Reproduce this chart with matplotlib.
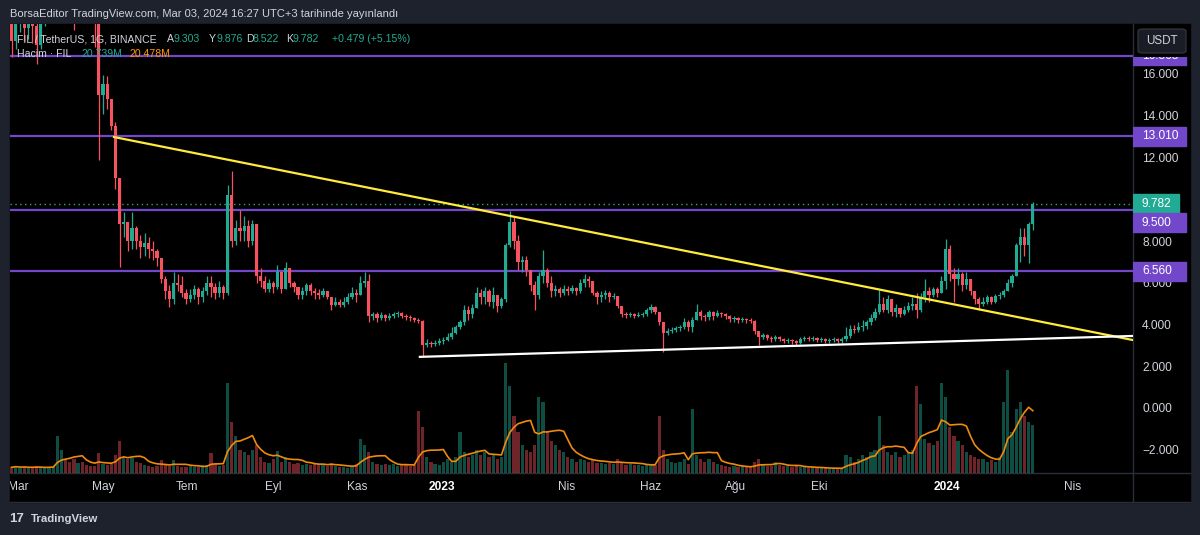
import matplotlib
matplotlib.use("Agg")
import matplotlib.pyplot as plt
from matplotlib.patches import Rectangle, FancyBboxPatch
from matplotlib.lines import Line2D
from matplotlib.colors import to_rgba
from matplotlib.transforms import blended_transform_factory, Bbox, TransformedBbox
import numpy as np
import pandas as pd

plt.rcParams['font.family'] = ['Liberation Sans', 'DejaVu Sans']

# FIL / USDT (Binance), one candle per 3 days
first_open = 19.5
closes = [
    17.6, 18.6, 18.9, 18.2, 18.8, 18.3, 17.4, 18.6, 19.5, 20.5,
    22.5, 24.0, 27.0, 24.5, 21.5, 21.0, 21.5, 20.5, 19.8, 19.0,
    18.9, 15.0, 15.5, 14.8, 13.5, 11.0, 8.8, 8.9, 8.0, 8.6,
    8.0, 7.7, 7.9, 7.6, 7.5, 7.2, 6.2, 5.6, 5.2, 6.0,
    5.9, 5.5, 5.2, 5.4, 5.7, 5.3, 5.6, 6.0, 5.8, 5.5,
    5.8, 5.5, 10.2, 8.0, 8.6, 8.5, 8.7, 8.0, 8.8, 6.3,
    6.1, 5.7, 6.0, 5.8, 6.5, 5.7, 6.7, 6.0, 5.8, 5.4,
    5.6, 5.9, 5.6, 5.5, 5.4, 5.6, 5.3, 4.95, 5.1, 4.95,
    5.1, 5.3, 5.5, 5.4, 6.0, 6.1, 4.4, 4.5, 4.3, 4.45,
    4.3, 4.4, 4.5, 4.55, 4.4, 4.35, 4.3, 4.2, 4.15, 3.0,
    3.1, 3.05, 3.1, 3.2, 3.25, 3.4, 3.6, 3.9, 4.1, 4.7,
    4.5, 4.8, 5.5, 5.3, 5.6, 5.1, 5.4, 4.9, 5.2, 7.8,
    8.9, 8.0, 7.0, 7.1, 6.6, 5.9, 5.4, 6.3, 6.6, 6.0,
    5.6, 5.7, 5.5, 5.7, 5.6, 5.75, 5.6, 6.0, 6.2, 6.1,
    5.5, 5.3, 5.4, 5.5, 5.3, 5.35, 4.9, 4.5, 4.45, 4.5,
    4.4, 4.45, 4.5, 4.7, 4.85, 4.6, 4.1, 3.6, 3.7, 3.75,
    3.85, 3.9, 4.1, 3.9, 4.2, 4.6, 4.4, 4.35, 4.6, 4.4,
    4.55, 4.5, 4.4, 4.25, 4.3, 4.2, 4.25, 4.2, 4.15, 3.7,
    3.4, 3.5, 3.35, 3.3, 3.4, 3.3, 3.2, 3.25, 3.2, 3.1,
    3.3, 3.35, 3.3, 3.35, 3.25, 3.3, 3.2, 3.25, 3.3, 3.2,
    3.3, 3.45, 3.8, 3.75, 3.9, 3.95, 4.1, 4.3, 4.6, 5.0,
    4.7, 5.2, 4.6, 4.8, 4.5, 4.7, 4.9, 5.0, 4.7, 5.3,
    5.6, 5.4, 5.7, 5.5, 6.1, 7.6, 6.4, 6.2, 6.4, 5.9,
    6.2, 5.6, 5.2, 5.0, 5.1, 5.3, 5.1, 5.35, 5.4, 5.6,
    6.0, 6.3, 7.8, 8.2, 7.8, 8.8, 9.782,
]
highs = [
    20.0, 19.0, 19.6, 19.5, 19.8, 19.4, 18.6, 19.2, 20.5, 21.5,
    23.5, 25.0, 29.0, 27.5, 25.0, 22.5, 22.5, 22.0, 21.0, 20.0,
    19.6, 19.5, 15.95, 15.9, 14.2, 13.7, 11.0, 9.4, 8.9, 9.4,
    8.7, 8.3, 8.4, 8.2, 8.0, 7.6, 7.2, 6.3, 5.9, 6.5,
    6.4, 6.3, 5.7, 5.7, 5.9, 5.8, 5.8, 6.3, 6.3, 6.0,
    6.1, 5.9, 10.7, 11.35, 9.0, 9.5, 9.2, 9.0, 9.0, 8.8,
    6.7, 6.3, 6.2, 6.1, 6.85, 6.5, 7.0, 6.7, 6.1, 5.8,
    5.8, 6.0, 6.0, 5.75, 5.7, 5.75, 5.6, 5.3, 5.3, 5.2,
    5.3, 5.5, 5.8, 5.7, 6.3, 6.5, 6.4, 4.6, 4.6, 4.6,
    4.5, 4.55, 4.6, 4.65, 4.6, 4.5, 4.45, 4.35, 4.3, 4.2,
    3.3, 3.2, 3.25, 3.35, 3.4, 3.6, 3.9, 4.0, 4.2, 4.95,
    4.9, 5.0, 5.8, 5.7, 5.8, 5.7, 5.8, 5.3, 5.3, 7.9,
    9.45, 9.2, 8.3, 7.3, 7.3, 6.6, 6.1, 6.5, 7.55, 6.7,
    6.3, 5.9, 5.8, 5.9, 5.85, 5.9, 5.8, 6.2, 6.4, 6.3,
    6.1, 5.6, 5.6, 5.65, 5.6, 5.5, 5.3, 4.9, 4.6, 4.6,
    4.55, 4.6, 4.6, 4.8, 5.0, 4.9, 4.6, 4.1, 3.85, 3.9,
    3.95, 4.0, 4.3, 4.2, 4.35, 5.0, 4.7, 4.5, 4.7, 4.65,
    4.7, 4.6, 4.55, 4.45, 4.4, 4.35, 4.35, 4.3, 4.3, 4.2,
    3.7, 3.6, 3.55, 3.45, 3.5, 3.45, 3.35, 3.35, 3.3, 3.25,
    3.4, 3.45, 3.45, 3.45, 3.4, 3.4, 3.35, 3.35, 3.4, 3.35,
    3.4, 3.9, 4.0, 4.0, 4.1, 4.2, 4.2, 4.5, 4.8, 5.65,
    5.3, 5.4, 5.2, 5.0, 4.8, 4.9, 5.1, 5.3, 5.5, 5.5,
    6.2, 5.8, 5.8, 5.8, 6.3, 8.1, 7.8, 6.7, 6.7, 6.5,
    6.5, 6.2, 5.6, 5.3, 5.3, 5.4, 5.35, 5.45, 5.55, 5.7,
    6.2, 6.4, 7.9, 8.6, 8.6, 8.9, 9.876,
]
lows = [
    16.8, 17.2, 18.0, 17.6, 17.7, 17.5, 16.5, 17.2, 18.3, 19.0,
    20.0, 21.5, 23.5, 23.5, 20.5, 18.1, 20.0, 19.5, 18.8, 18.5,
    17.3, 11.9, 14.1, 14.3, 13.3, 10.5, 6.75, 8.2, 7.5, 7.6,
    7.6, 7.2, 7.3, 7.2, 7.1, 6.8, 6.0, 5.2, 4.85, 5.0,
    5.6, 5.3, 5.0, 5.1, 5.2, 5.0, 5.1, 5.4, 5.3, 5.2,
    5.3, 5.2, 5.4, 7.7, 7.8, 8.0, 8.0, 7.7, 7.8, 6.0,
    5.8, 5.55, 5.55, 5.5, 5.7, 5.5, 5.7, 5.8, 5.55, 5.2,
    5.2, 5.4, 5.4, 5.2, 5.2, 5.3, 5.2, 4.7, 4.9, 4.85,
    4.85, 5.0, 5.2, 5.1, 5.4, 5.8, 4.1, 4.2, 4.1, 4.2,
    4.15, 4.2, 4.3, 4.35, 4.3, 4.2, 4.15, 4.1, 4.05, 2.45,
    2.9, 2.9, 2.95, 3.0, 3.05, 3.2, 3.3, 3.55, 3.8, 4.0,
    4.2, 4.3, 4.9, 5.0, 5.0, 4.9, 4.8, 4.6, 4.8, 5.1,
    7.7, 7.6, 6.6, 6.5, 6.3, 5.6, 4.7, 5.2, 6.0, 5.8,
    5.3, 5.35, 5.3, 5.4, 5.4, 5.5, 5.4, 5.5, 5.8, 5.8,
    5.4, 5.0, 5.1, 5.2, 5.1, 5.2, 4.8, 4.35, 4.3, 4.35,
    4.3, 4.35, 4.35, 4.4, 4.55, 4.5, 4.0, 2.7, 3.5, 3.6,
    3.65, 3.7, 3.8, 3.7, 3.65, 4.2, 4.2, 4.15, 4.2, 4.2,
    4.35, 4.35, 4.25, 4.1, 4.1, 4.05, 4.1, 4.05, 4.05, 3.55,
    3.0, 3.3, 3.25, 3.15, 3.2, 3.2, 3.1, 3.1, 3.05, 3.0,
    3.05, 3.2, 3.2, 3.2, 3.15, 3.15, 3.1, 3.1, 3.15, 3.1,
    3.1, 3.2, 3.35, 3.6, 3.65, 3.7, 3.8, 4.0, 4.2, 4.5,
    4.6, 4.55, 4.4, 4.35, 4.35, 4.45, 4.6, 4.7, 4.3, 4.6,
    5.1, 5.1, 5.3, 5.3, 5.6, 5.7, 6.1, 5.1, 5.9, 5.6,
    5.7, 5.4, 5.0, 4.7, 4.9, 5.0, 5.0, 5.05, 5.2, 5.3,
    5.6, 5.8, 6.3, 7.0, 7.3, 6.95, 8.522,
]
# volume, million FIL
volumes = [
    2.5, 3, 2.2, 2.8, 2, 2.5, 3, 2.4, 2.2, 2.6,
    3, 16, 10, 6, 5, 6, 4.5, 5, 3.5, 3,
    3, 8.7, 4, 3.5, 4, 8, 14, 7, 6, 6.5,
    5, 4.5, 3.5, 3, 2.5, 3, 5.5, 4, 3, 5.5,
    3, 2.8, 2.5, 3, 2.6, 2.5, 3.5, 3.5, 8.7, 4,
    3, 3.5, 39, 22, 16, 10, 9, 8, 10, 12,
    7, 5, 4.5, 6, 9.6, 5, 7, 5, 4, 4.5,
    3.5, 4, 3.5, 4, 3.5, 4, 3, 4.5, 3, 2.5,
    2.5, 2.3, 3, 4, 15, 12, 9, 5, 4, 3.5,
    4, 3.5, 4, 3, 3.5, 4, 3, 3.5, 27, 20,
    7, 5, 4, 3.5, 5, 6, 5, 7, 18, 9,
    7, 8, 10, 8, 9, 7, 8, 6, 7, 48,
    38, 25, 18, 12, 10, 9, 12, 33, 31, 18,
    14, 12, 10, 9, 7, 6, 5, 6, 5.5, 5,
    6, 4.5, 4.5, 4, 4.5, 4, 6, 5, 3.5, 4,
    3.5, 3.5, 3, 3.5, 4, 3.5, 25, 10, 6, 5,
    4.5, 5, 6, 4, 28, 8, 6, 5, 6, 5,
    4, 3.5, 3, 2.5, 3, 2.5, 3, 2.5, 2.5, 5,
    6, 3.5, 3, 3, 5, 3.5, 3, 3, 2.5, 3,
    2.5, 2.5, 2.2, 2.5, 2, 2.2, 2, 1.8, 2, 2.2,
    2, 8, 7, 5, 6, 8, 7, 9, 10, 25,
    12, 9, 8, 9, 7, 8, 9, 10, 38, 30,
    15, 13, 12, 14, 39, 33, 20, 16, 14, 12,
    9, 8, 7, 6, 6, 5, 5.5, 5, 7, 31,
    45, 18, 28, 31, 25, 22, 20.7,
]
dates = pd.date_range(end='2024-03-03', periods=len(closes), freq='3D')

levels = [16.863, 13.010, 9.500, 6.560]
last_ohlc = [9.303, 9.876, 8.522, 9.782]
last_vol, last_vol_ma = 20.739, 20.478

down_dates = ['2022-05-09', '2024-05-14']
down_prices = [12.98, 3.26]
up_dates = ['2022-12-16', '2024-05-14']
up_prices = [2.45, 3.45]

tick_dates = ['2022-03-01', '2022-05-01', '2022-07-01', '2022-09-01', '2022-11-01', '2023-01-01',
              '2023-04-01', '2023-06-01', '2023-08-01', '2023-10-01', '2024-01-01', '2024-04-01']
tick_labels = ['Mar', 'May', 'Tem', 'Eyl', 'Kas', '2023', 'Nis', 'Haz', 'Ağu', 'Eki', '2024', 'Nis']
# 10.000 sits under the last-price tag, so it never shows
price_ticks = [-2, 0, 2, 4, 6, 8, 12, 14, 16]

BG = '#000000'
PANEL = '#1e222d'
TEXT = '#d1d4dc'
UP = '#22ab94'
DOWN = '#f7525f'
PURPLE = '#7347c9'
ORANGE = '#ff9800'
GRID = '#2a2e39'

W, H = 1200, 535


def fx(px):
    return px / W


def fy(py):
    return 1 - py / H


fig = plt.figure(figsize=(12, 5.35), dpi=100, facecolor=PANEL)
fig.add_artist(Rectangle((fx(10), fy(502)), fx(1190) - fx(10), fy(24) - fy(502),
                         transform=fig.transFigure, color=BG, zorder=0))

ax = fig.add_axes([fx(10), fy(473), fx(1133) - fx(10), fy(24) - fy(473)])
vax = ax.twinx()
ax.set_zorder(2)
vax.set_zorder(1)
ax.patch.set_visible(False)
vax.patch.set_visible(False)

# candles
o = np.r_[first_open, closes[:-1]]
c = np.array(closes)
hi = np.maximum(highs, np.maximum(o, c))
lo = np.minimum(lows, np.minimum(o, c))
col = np.where(c >= o, UP, DOWN)
ax.vlines(dates, lo, hi, colors=col, lw=0.9, zorder=3)
ax.bar(dates, np.maximum(np.abs(c - o), 0.04), bottom=np.minimum(o, c), width=2.3,
       color=col, linewidth=0, zorder=4)

# volume + its moving average
vax.bar(dates, volumes, width=2.3, color=[to_rgba(x, 0.45) for x in col], linewidth=0)
vol_ma = pd.Series(volumes).rolling(7, min_periods=1).mean()
vax.plot(dates, vol_ma, color='#f08a0c', lw=1.2)
vax.set_ylim(0, 449 / 2.3)
vax.axis('off')

# drawings
for lv in levels:
    ax.axhline(lv, color=PURPLE, lw=1.6, zorder=2)
ax.axhline(last_ohlc[3], color=UP, lw=1, ls=(0, (1, 2.5)), zorder=2)
ax.plot(pd.to_datetime(down_dates), down_prices, color='#ffeb3b', lw=1.6, zorder=5)
ax.plot(pd.to_datetime(up_dates), up_prices, color='#ffffff', lw=1.6, zorder=5)

ax.set_xlim(pd.Timestamp('2022-02-22 19:00'), pd.Timestamp('2024-05-14 10:00'))
ax.set_ylim((408 - 473) / 20.875, (408 - 24) / 20.875)

ax.yaxis.tick_right()
ax.set_yticks(price_ticks)
ax.set_yticklabels([f'{v:.3f}'.replace('-', '\u2212') for v in price_ticks])
ax.tick_params(axis='y', length=0, pad=6.5, labelsize=8.6, labelcolor=TEXT)
ax.set_xticks(pd.to_datetime(tick_dates))
ax.set_xticklabels(tick_labels)
ax.tick_params(axis='x', length=0, pad=6, labelsize=8.6, labelcolor=TEXT)
black_box = TransformedBbox(Bbox.from_extents(fx(10), 0, fx(1190), 1), fig.transFigure)
for t in ax.get_xticklabels():
    if t.get_text().isdigit():
        t.set_fontweight('bold')
        t.set_color('#ffffff')
    t.set_clip_box(black_box)
    t.set_clip_on(True)
for s in ax.spines.values():
    s.set_visible(False)

# price labels on the scale
bt = blended_transform_factory(fig.transFigure, ax.transData)
box_h = 19 / 20.875
label_clip = TransformedBbox(Bbox.from_extents(fx(1133), 0, fx(1190), fy(57)), fig.transFigure)


def price_label(y, text, color, right_px):
    r = Rectangle((fx(1133), y - box_h / 2), fx(right_px) - fx(1133), box_h,
                  transform=bt, color=color, zorder=6)
    r.set_clip_box(label_clip)
    fig.add_artist(r)
    t = fig.text(fx(1142), y, text, transform=bt, color='#ffffff', fontsize=8.6,
                 va='center', ha='left', zorder=7)
    t.set_clip_box(label_clip)
    t.set_clip_on(True)


last = last_ohlc[3]
price_label(last, f'{last:.3f}', UP, 1179)
for lv in levels:
    y = lv if abs(lv - last) > box_h else last - box_h
    price_label(y, f'{lv:.3f}', PURPLE, 1186)

fig.add_artist(FancyBboxPatch((fx(1138), fy(53)), fx(1186) - fx(1138), fy(29) - fy(53),
                              boxstyle='round,pad=0,rounding_size=0.004', transform=fig.transFigure,
                              facecolor='#1a1d25', edgecolor='#363a45', lw=0.8, zorder=8))
fig.text(fx(1162), fy(41), 'USDT', color=TEXT, fontsize=8.4, ha='center', va='center', zorder=9)

# panel borders
fig.add_artist(Line2D([fx(1133)] * 2, [fy(24), fy(502)], color=GRID, lw=1, zorder=1))
fig.add_artist(Line2D([fx(10), fx(1190)], [fy(473)] * 2, color=GRID, lw=1, zorder=1))
fig.add_artist(Line2D([fx(10), fx(1190)], [fy(502)] * 2, color=GRID, lw=1, zorder=1))

# header / legend
fig.text(fx(10), fy(14), 'BorsaEditor TradingView.com, Mar 03, 2024 16:27 UTC+3 tarihinde yayınlandı',
         color=TEXT, fontsize=8, va='center')
chg = last_ohlc[3] - last_ohlc[0]
legend1 = [(17, 'FIL / TetherUS, 1G, BINANCE', TEXT),
           (167, 'A', TEXT), (174, f'{last_ohlc[0]:.3f}', UP),
           (209, 'Y', TEXT), (216.5, f'{last_ohlc[1]:.3f}', UP),
           (246, 'D', TEXT), (252.5, f'{last_ohlc[2]:.3f}', UP),
           (286, 'K', TEXT), (292.5, f'{last_ohlc[3]:.3f}', UP),
           (332, f'+{chg:.3f} (+{chg / last_ohlc[0] * 100:.2f}%)', UP)]
for x, s, cc in legend1:
    fig.text(fx(x), fy(39), s, color=cc, fontsize=7.6, va='center', zorder=5)
legend2 = [(17, 'Hacim · FIL', TEXT), (81, f'{last_vol:.3f}M', UP), (129, f'{last_vol_ma:.3f}M', ORANGE)]
for x, s, cc in legend2:
    fig.text(fx(x), fy(54), s, color=cc, fontsize=7.6, va='center', zorder=5)

fig.text(fx(9), fy(519), '17', color=TEXT, fontsize=9.5, fontweight='bold', va='center')
fig.text(fx(31), fy(519), 'TradingView', color=TEXT, fontsize=8.2, fontweight='bold', va='center')

fig.savefig('out.png', dpi=100, facecolor=PANEL)
